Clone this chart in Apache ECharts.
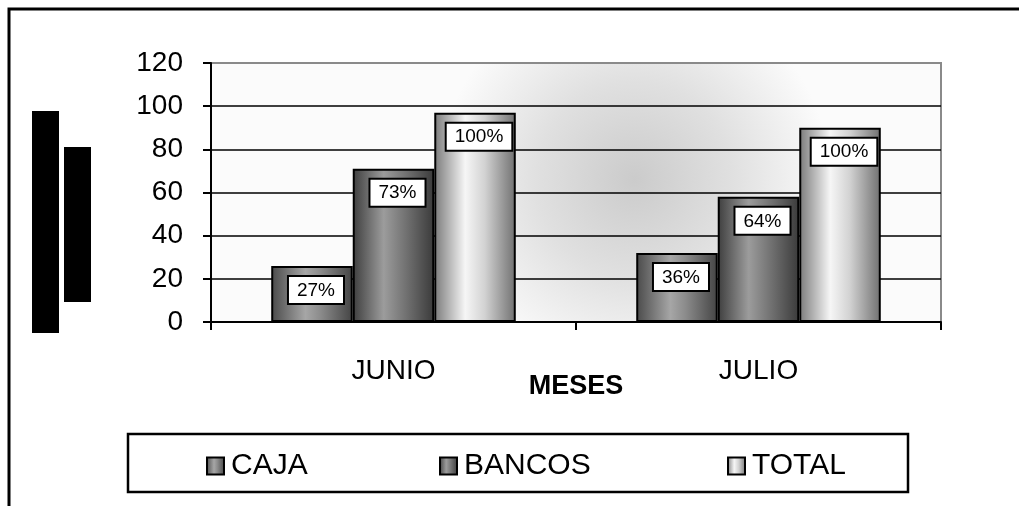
<!DOCTYPE html>
<html><head><meta charset="utf-8">
<script src="https://cdn.jsdelivr.net/npm/echarts@6/dist/echarts.min.js"></script>
<style>html,body{margin:0;padding:0;background:#fff}#c{width:1019px;height:506px}</style>
</head><body><div id="c"></div>
<script>
const categories = ['JUNIO', 'JULIO'];
const seriesNames = ['CAJA', 'BANCOS', 'TOTAL'];
const cajaValues = [26, 32];
const bancosValues = [71, 58];
const totalValues = [97, 90];
const cajaLabels = ['27%', '36%'];
const bancosLabels = ['73%', '64%'];
const totalLabels = ['100%', '100%'];
const yTicks = [0, 20, 40, 60, 80, 100, 120];
const xAxisTitle = 'MESES';

const FONT = 'Liberation Sans, Arial, sans-serif';
function hgrad(stops){return {type:'linear',x:0,y:0,x2:1,y2:0,colorStops:stops.map(s=>({offset:s[0],color:s[1]}))};}
const fills = [
  hgrad([[0,'#4a4a4a'],[0.42,'#a6a6a6'],[0.6,'#8c8c8c'],[1,'#444']]),
  hgrad([[0,'#3e3e3e'],[0.38,'#9c9c9c'],[0.7,'#6a6a6a'],[1,'#3a3a3a']]),
  hgrad([[0,'#7a7a7a'],[0.38,'#f6f6f6'],[0.62,'#d2d2d2'],[1,'#707070']])
];
const valueSets = [cajaValues, bancosValues, totalValues];
const labelSets = [cajaLabels, bancosLabels, totalLabels];
const legendLefts = [201, 434, 722];

const chart = echarts.init(document.getElementById('c'));
chart.setOption({
  animation:false,
  backgroundColor:'#fff',
  textStyle:{fontFamily:FONT},
  grid:{left:211,right:78,top:63,bottom:184,show:true,borderColor:'#8a8a8a',borderWidth:2,
    backgroundColor:{type:'radial',x:0.58,y:0.45,r:0.75,colorStops:[{offset:0,color:'#cbcbcb'},{offset:0.5,color:'#e0e0e0'},{offset:1,color:'#fbfbfb'}]}},
  legend:seriesNames.map((n,i)=>({data:[n],left:legendLefts[i],top:446,itemWidth:17,itemHeight:17,icon:'rect',itemGap:0,
    textStyle:{fontSize:30,color:'#000',fontFamily:FONT,padding:[0,0,0,2]}})),
  xAxis:{type:'category',data:categories,
    axisLine:{lineStyle:{color:'#000',width:2}},
    axisTick:{show:true,length:8,lineStyle:{color:'#000',width:2}},
    axisLabel:{fontSize:28,color:'#000',margin:35,fontFamily:FONT},
    name:xAxisTitle,nameLocation:'middle',nameGap:51,nameMoveOverlap:false,
    nameTextStyle:{fontSize:27,fontWeight:'bold',color:'#000',fontFamily:FONT}},
  yAxis:{type:'value',min:yTicks[0],max:yTicks[yTicks.length-1],interval:yTicks[1]-yTicks[0],
    axisLine:{show:true,lineStyle:{color:'#000',width:2}},
    axisTick:{show:true,length:8,lineStyle:{color:'#000',width:2}},
    axisLabel:{fontSize:28,color:'#000',margin:28,fontFamily:FONT},
    splitLine:{show:true,lineStyle:{color:['#000','#000','#000','#000','#000','#000','#8a8a8a'],width:1.5}}},
  graphic:[
    {type:'rect',shape:{x:9,y:9,width:1100,height:600},style:{fill:'none',stroke:'#000',lineWidth:3},silent:true},
    {type:'rect',shape:{x:32,y:111,width:27,height:222},style:{fill:'#000'},silent:true},
    {type:'rect',shape:{x:64,y:147,width:27,height:155},style:{fill:'#000'},silent:true},
    {type:'rect',shape:{x:128,y:434,width:780,height:58},style:{fill:'none',stroke:'#000',lineWidth:2.5},silent:true,z:-1}
  ],
  series:seriesNames.map((n,i)=>({
    name:n,type:'bar',barGap:'0%',barCategoryGap:'33%',
    data:valueSets[i],
    itemStyle:{color:fills[i],borderColor:'#000',borderWidth:2},
    label:{show:true,position:'insideTop',distance:11,offset:[4,0],
      formatter:p=>labelSets[i][p.dataIndex],
      fontSize:19,color:'#000',fontFamily:FONT,backgroundColor:'#fff',
      borderColor:'#000',borderWidth:2,padding:[4,8,3,8]}
  }))
});
</script></body></html>
